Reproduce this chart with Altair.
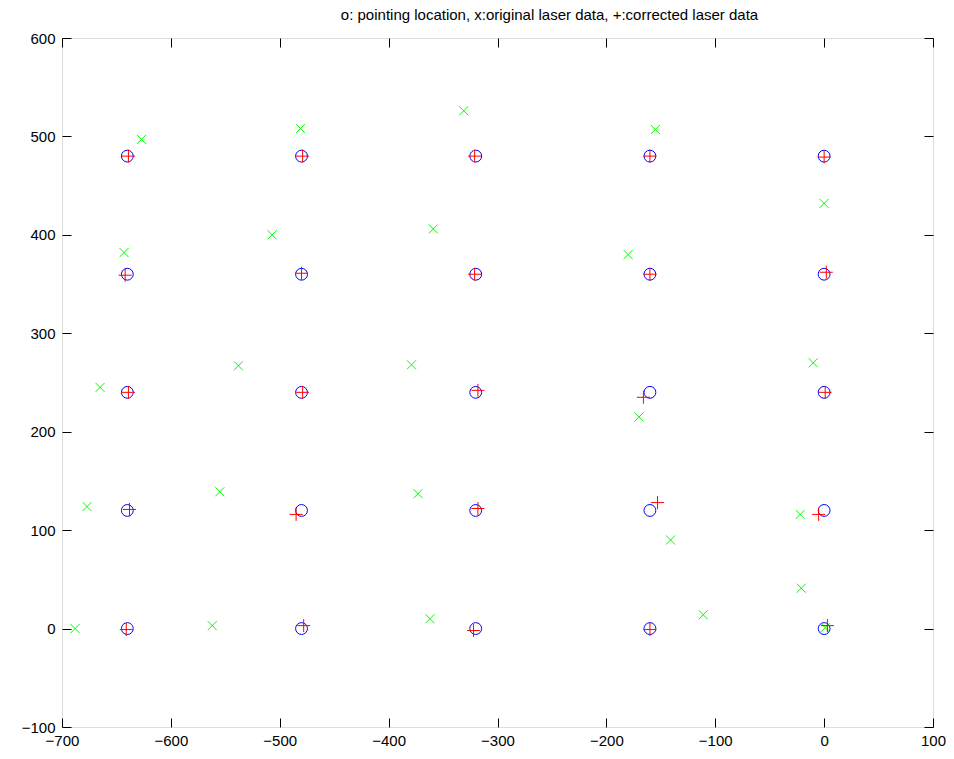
import altair as alt
import pandas as pd

# pointing locations (o)
point_x = [-640, -640, -640, -640, -640, -480, -480, -480, -480, -480,
           -320, -320, -320, -320, -320, -160, -160, -160, -160, -160,
           0, 0, 0, 0, 0]
point_y = [480, 360, 240, 120, 0] * 5

# original laser data (x)
orig_x = [-627, -643, -665, -677, -688,
          -481, -507, -538, -555, -562,
          -331, -359, -379, -373, -362,
          -155, -180, -170, -141, -111,
          0, -10, -22, -21, 1]
orig_y = [497, 382, 245, 124, 0,
          508, 400, 267, 139, 3,
          526, 406, 268, 137, 10,
          507, 380, 215, 90, 14,
          432, 270, 116, 41, 1]

# corrected laser data (+)
corr_x = [-639, -642, -639, -638, -641,
          -479, -480, -479, -485, -478,
          -321, -321, -318, -318, -322,
          -160, -160, -166, -153, -160,
          0, 2, 1, -5, 3]
corr_y = [480, 359, 240, 121, -1,
          480, 361, 240, 116, 3,
          480, 360, 242, 122, -2,
          480, 360, 235, 128, -1,
          479, 362, 240, 116, 3]

x_ticks = [-700, -600, -500, -400, -300, -200, -100, 0, 100]
y_ticks = [-100, 0, 100, 200, 300, 400, 500, 600]

df_p = pd.DataFrame({"x": point_x, "y": point_y})
df_o = pd.DataFrame({"x": orig_x, "y": orig_y})
df_c = pd.DataFrame({"x": corr_x, "y": corr_y})

xs = alt.Scale(domain=[-700, 100], nice=False, zero=False)
ys = alt.Scale(domain=[-100, 600], nice=False, zero=False)

FONT = "Liberation Sans"

lab_x = alt.Axis(values=x_ticks, ticks=False, domain=False, grid=False, labelPadding=6,
                 labelFontSize=15, labelFont=FONT, labelColor="#000000", orient="bottom",
                 labelFlush=False, labelOverlap=False)
lab_y = alt.Axis(values=y_ticks, ticks=False, domain=False, grid=False, labelPadding=7,
                 labelFontSize=15, labelFont=FONT, labelColor="#000000", orient="left",
                 labelFlush=False, labelOverlap=False)

def tick_axis(orient, vals):
    return alt.Axis(values=vals, labels=False, domain=False, grid=False, tickSize=9,
                    tickColor="#000000", tickWidth=1, offset=-9, orient=orient)

circles = alt.Chart(df_p).mark_point(
    shape="circle", filled=False, size=140, color="#0000ff", strokeWidth=1, opacity=1
).encode(
    x=alt.X("x:Q", scale=xs, axis=lab_x, title=None),
    y=alt.Y("y:Q", scale=ys, axis=lab_y, title=None),
)

orig = alt.Chart(df_o).mark_point(
    shape="M-1,-1L1,1M-1,1L1,-1", filled=False, size=81,
    color="#00ff00", strokeWidth=1, opacity=1
).encode(
    x=alt.X("x:Q", scale=xs, axis=tick_axis("bottom", x_ticks), title=None),
    y=alt.Y("y:Q", scale=ys, axis=tick_axis("left", y_ticks), title=None),
)

corr = alt.Chart(df_c).mark_point(
    shape="M-1,0H1M0,-1V1", filled=False, size=169,
    color="#ff0000", strokeWidth=1, opacity=1
).encode(
    x=alt.X("x:Q", scale=xs, axis=tick_axis("top", x_ticks), title=None),
    y=alt.Y("y:Q", scale=ys, axis=tick_axis("right", y_ticks), title=None),
)

chart = alt.layer(circles, orig, corr).resolve_axis(
    x="independent", y="independent"
).resolve_scale(
    x="shared", y="shared"
).properties(
    width=871,
    height=689,
    title=alt.Title(
        "o: pointing location, x:original laser data, +:corrected laser data",
        fontSize=15, font=FONT, fontWeight="normal", color="#000000",
        anchor="middle", offset=8, dx=52,
    ),
    autosize=alt.AutoSizeParams(type="none"),
    padding={"left": 54, "top": 30, "right": 13, "bottom": 24},
).configure_view(
    stroke="#000000", strokeWidth=1
).configure(background="#ffffff")

chart.save("out.html", embed_options={"renderer": "svg", "actions": False})
